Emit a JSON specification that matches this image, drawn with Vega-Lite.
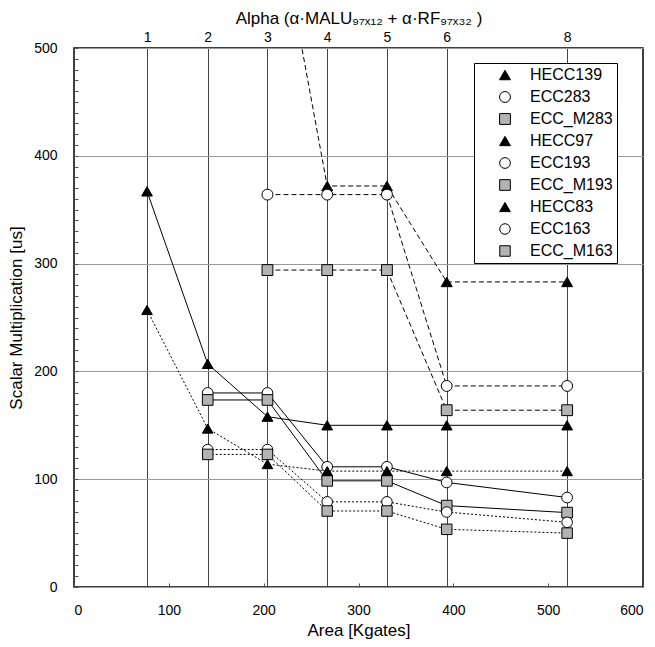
{
  "$schema": "https://vega.github.io/schema/vega-lite/v6.json",
  "width": 569,
  "height": 539,
  "autosize": {"type": "none"},
  "padding": {"left": 74, "top": 48, "right": 12, "bottom": 60},
  "config": {
    "font": "Liberation Sans",
    "view": {"stroke": "black", "strokeWidth": 1.5},
    "axis": {
      "labelFont": "Liberation Sans",
      "titleFont": "Liberation Sans",
      "labelColor": "black",
      "titleColor": "black",
      "titleFontWeight": "normal",
      "labelFontSize": 14,
      "titleFontSize": 17,
      "domain": false,
      "tickColor": "#555"
    }
  },
  "data": {
    "values": [
      {"series": "HECC139", "area": 204, "t": 674},
      {"series": "HECC139", "area": 267, "t": 372},
      {"series": "HECC139", "area": 330, "t": 372},
      {"series": "HECC139", "area": 393, "t": 283},
      {"series": "HECC139", "area": 520, "t": 283},
      {"series": "ECC283", "area": 204, "t": 364},
      {"series": "ECC283", "area": 267, "t": 364},
      {"series": "ECC283", "area": 330, "t": 364},
      {"series": "ECC283", "area": 393, "t": 186.5},
      {"series": "ECC283", "area": 520, "t": 186.5},
      {"series": "ECC_M283", "area": 204, "t": 294},
      {"series": "ECC_M283", "area": 267, "t": 294},
      {"series": "ECC_M283", "area": 330, "t": 294},
      {"series": "ECC_M283", "area": 393, "t": 164},
      {"series": "ECC_M283", "area": 520, "t": 164},
      {"series": "HECC97", "area": 77, "t": 367},
      {"series": "HECC97", "area": 141, "t": 207},
      {"series": "HECC97", "area": 204, "t": 158},
      {"series": "HECC97", "area": 267, "t": 150},
      {"series": "HECC97", "area": 330, "t": 150},
      {"series": "HECC97", "area": 393, "t": 150},
      {"series": "HECC97", "area": 520, "t": 150},
      {"series": "ECC193", "area": 141, "t": 180},
      {"series": "ECC193", "area": 204, "t": 180},
      {"series": "ECC193", "area": 267, "t": 111.5},
      {"series": "ECC193", "area": 330, "t": 111.5},
      {"series": "ECC193", "area": 393, "t": 97},
      {"series": "ECC193", "area": 520, "t": 83},
      {"series": "ECC_M193", "area": 141, "t": 173.5},
      {"series": "ECC_M193", "area": 204, "t": 173.5},
      {"series": "ECC_M193", "area": 267, "t": 98.5},
      {"series": "ECC_M193", "area": 330, "t": 98.5},
      {"series": "ECC_M193", "area": 393, "t": 75.5},
      {"series": "ECC_M193", "area": 520, "t": 69},
      {"series": "HECC83", "area": 77, "t": 257},
      {"series": "HECC83", "area": 141, "t": 147},
      {"series": "HECC83", "area": 204, "t": 114},
      {"series": "HECC83", "area": 267, "t": 107.5},
      {"series": "HECC83", "area": 330, "t": 107.5},
      {"series": "HECC83", "area": 393, "t": 107.5},
      {"series": "HECC83", "area": 520, "t": 107.5},
      {"series": "ECC163", "area": 141, "t": 127.5},
      {"series": "ECC163", "area": 204, "t": 127.5},
      {"series": "ECC163", "area": 267, "t": 79},
      {"series": "ECC163", "area": 330, "t": 79},
      {"series": "ECC163", "area": 393, "t": 69.5},
      {"series": "ECC163", "area": 520, "t": 60},
      {"series": "ECC_M163", "area": 141, "t": 123},
      {"series": "ECC_M163", "area": 204, "t": 123},
      {"series": "ECC_M163", "area": 267, "t": 70.5},
      {"series": "ECC_M163", "area": 330, "t": 70.5},
      {"series": "ECC_M163", "area": 393, "t": 53.5},
      {"series": "ECC_M163", "area": 520, "t": 50}
    ]
  },
  "encoding": {
    "y": {
      "field": "t", "type": "quantitative",
      "scale": {"domain": [0, 500], "nice": false},
      "axis": {
        "title": "Scalar Multiplication [us]",
        "values": [0,10,20,30,40,50,60,70,80,90,100,110,120,130,140,150,160,170,180,190,200,210,220,230,240,250,260,270,280,290,300,310,320,330,340,350,360,370,380,390,400,410,420,430,440,450,460,470,480,490,500],
        "labelExpr": "datum.value % 100 === 0 ? datum.label : ''",
        "labelOverlap": false,
        "tickSize": -4, "labelPadding": 21, "titlePadding": 8,
        "grid": true, "gridColor": "#9a9a9a", "gridWidth": 1,
        "gridOpacity": {"condition": {"test": "datum.value % 100 === 0", "value": 1}, "value": 0}
      }
    }
  },
  "layer": [
    {
      "transform": [{"filter": {"field": "series", "oneOf": ["HECC139", "ECC283", "ECC_M283"]}}],
      "mark": {"type": "line", "clip": true, "color": "black", "strokeWidth": 1, "strokeDash": [5, 3]},
      "encoding": {
        "x": {
          "field": "area", "type": "quantitative",
          "scale": {"domain": [0, 600], "nice": false, "zero": true},
          "axis": {
            "orient": "bottom", "title": "Area [Kgates]",
            "values": [0, 100, 200, 300, 400, 500, 600],
            "tickSize": -4, "labelPadding": 20, "titlePadding": 5, "grid": false
          }
        },
        "detail": {"field": "series", "type": "nominal"}
      }
    },
    {
      "transform": [{"filter": {"field": "series", "oneOf": ["HECC97", "ECC193", "ECC_M193"]}}],
      "mark": {"type": "line", "clip": true, "color": "black", "strokeWidth": 1},
      "encoding": {
        "x": {"field": "area", "type": "quantitative", "axis": null},
        "detail": {"field": "series", "type": "nominal"}
      }
    },
    {
      "transform": [{"filter": {"field": "series", "oneOf": ["HECC83", "ECC163", "ECC_M163"]}}],
      "mark": {"type": "line", "clip": true, "color": "black", "strokeWidth": 1, "strokeDash": [2, 2]},
      "encoding": {
        "x": {"field": "area", "type": "quantitative", "axis": null},
        "detail": {"field": "series", "type": "nominal"}
      }
    },
    {
      "mark": {"type": "point", "clip": true, "filled": true, "stroke": "black", "strokeWidth": 1, "opacity": 1},
      "encoding": {
        "x": {
          "field": "area", "type": "quantitative",
          "axis": {
            "orient": "top",
            "title": "Alpha (α·MALU₉₇ₓ₁₂ + α·RF₉₇ₓ₃₂ )",
            "values": [77, 141, 204, 267, 330, 393, 520],
            "labelExpr": "['1','2','3','4','5','6','8'][indexof([77,141,204,267,330,393,520], datum.value)]",
            "ticks": false, "labelPadding": 4, "titlePadding": 3,
            "grid": true, "gridColor": "#444", "gridWidth": 1
          }
        },
        "shape": {
          "field": "series", "type": "nominal",
          "scale": {
            "domain": ["HECC139", "ECC283", "ECC_M283", "HECC97", "ECC193", "ECC_M193", "HECC83", "ECC163", "ECC_M163"],
            "range": ["triangle-up", "circle", "square", "triangle-up", "circle", "square", "triangle-up", "circle", "square"]
          },
          "legend": {
            "orient": "none", "legendX": 400, "legendY": 15, "title": null,
            "strokeColor": "black", "fillColor": "white", "padding": 4, "rowPadding": 6,
            "labelFont": "Liberation Sans", "labelFontSize": 16, "labelColor": "black",
            "symbolSize": 100, "symbolOffset": 19, "labelOffset": 17,
            "symbolStrokeWidth": 1, "symbolStrokeColor": "black"
          }
        },
        "fill": {
          "field": "series", "type": "nominal",
          "scale": {
            "domain": ["HECC139", "ECC283", "ECC_M283", "HECC97", "ECC193", "ECC_M193", "HECC83", "ECC163", "ECC_M163"],
            "range": ["black", "white", "#b3b3b3", "black", "white", "#b3b3b3", "black", "white", "#b3b3b3"]
          }
        },
        "size": {
          "field": "series", "type": "nominal",
          "scale": {
            "domain": ["HECC139", "ECC283", "ECC_M283", "HECC97", "ECC193", "ECC_M193", "HECC83", "ECC163", "ECC_M163"],
            "range": [120, 110, 64, 120, 110, 64, 120, 110, 64]
          }
        }
      }
    }
  ],
  "resolve": {"axis": {"x": "independent"}}
}
